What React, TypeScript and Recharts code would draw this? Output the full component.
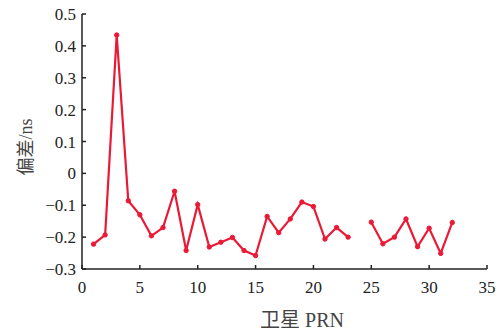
import { LineChart, Line, XAxis, YAxis } from "recharts";

// satellite PRN numbers (24 has no value)
const prn = [1, 2, 3, 4, 5, 6, 7, 8, 9, 10, 11, 12, 13, 14, 15, 16, 17, 18, 19, 20, 21, 22, 23, 24, 25, 26, 27, 28, 29, 30, 31, 32];
const bias: (number | null)[] = [
  -0.222, -0.193, 0.434, -0.086, -0.13, -0.196, -0.17, -0.056, -0.242, -0.098,
  -0.231, -0.216, -0.201, -0.242, -0.258, -0.135, -0.186, -0.143, -0.09, -0.104,
  -0.206, -0.17, -0.2, null, -0.153, -0.221, -0.2, -0.143, -0.23, -0.172,
  -0.251, -0.154,
];
const xTicks = [0, 5, 10, 15, 20, 25, 30, 35];
const yTicks = [-0.3, -0.2, -0.1, 0, 0.1, 0.2, 0.3, 0.4, 0.5];

const data = prn.map((p, i) => ({ prn: p, bias: bias[i] }));

const RED = "#ea1a36";
const AXIS = "#222";
const FONT = '"Liberation Serif", "Noto Sans CJK SC", serif';

const fmtY = (v: number) => (v < 0 ? "\u2212" + Math.abs(v).toFixed(1) : v === 0 ? "0" : v.toFixed(1));

export default function App() {
  return (
    <div style={{ position: "absolute", left: 0, top: 0, background: "#fff" }}>
      <LineChart width={501} height={336} data={data} margin={{ top: 14, right: 14, bottom: 37, left: 0 }}>
        <XAxis
          xAxisId="b"
          dataKey="prn"
          type="number"
          domain={[0, 35]}
          ticks={xTicks}
          height={30}
          tickSize={-4}
          tickMargin={16}
          stroke={AXIS}
          strokeWidth={1.5}
          tick={{ fill: "#222", fontSize: 17, fontFamily: FONT }}
        />
        <XAxis xAxisId="t" dataKey="prn" type="number" domain={[0, 35]} orientation="top" height={0} tick={false} tickLine={false} stroke={AXIS} strokeWidth={1.5} />
        <YAxis
          yAxisId="l"
          type="number"
          domain={[-0.3, 0.5]}
          ticks={yTicks}
          width={82}
          tickSize={-4}
          tickMargin={10}
          tickFormatter={fmtY}
          stroke={AXIS}
          strokeWidth={1.5}
          tick={{ fill: "#222", fontSize: 17, fontFamily: FONT }}
        />
        <YAxis yAxisId="r" type="number" domain={[-0.3, 0.5]} orientation="right" width={0} tick={false} tickLine={false} stroke={AXIS} strokeWidth={1.5} />
        <Line
          xAxisId="b"
          yAxisId="l"
          dataKey="bias"
          type="linear"
          stroke={RED}
          strokeWidth={2.2}
          dot={{ r: 2.2, fill: RED, stroke: RED, strokeWidth: 1 }}
          connectNulls={false}
          isAnimationActive={false}
        />
        <text x={302} y={327} textAnchor="middle" fontSize={20} fontFamily={FONT} fill="#444">
          卫星 PRN
        </text>
        <text
          x={32}
          y={147}
          textAnchor="middle"
          fontSize={18}
          fontFamily={FONT}
          fill="#444"
          transform="rotate(-90 32 147)"
        >
          偏差/ns
        </text>
      </LineChart>
    </div>
  );
}
